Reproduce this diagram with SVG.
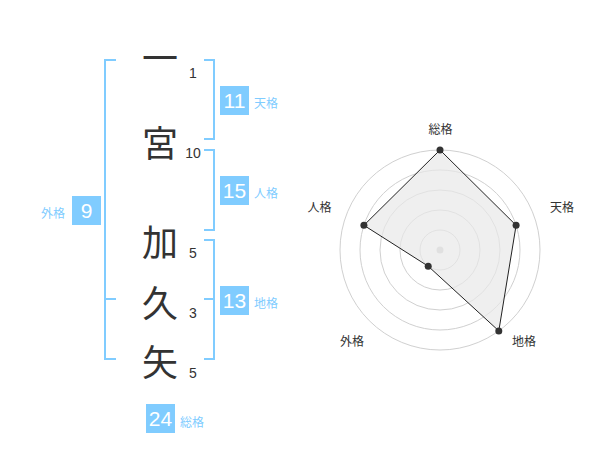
<svg xmlns="http://www.w3.org/2000/svg" width="600" height="470" viewBox="0 0 600 470">
<style>
.kanji{font-family:"Noto Sans CJK JP","Noto Sans CJK SC",sans-serif;font-size:36px;fill:#333;text-anchor:middle}
.num{font-family:"Liberation Sans",Arial,sans-serif;font-size:14px;fill:#333;text-anchor:middle}
.br{fill:none;stroke:#80ccff;stroke-width:2}
.box{fill:#80ccff}
.bnum{font-family:"Liberation Sans",Arial,sans-serif;font-size:21px;fill:#fff;text-anchor:middle}
.lab{font-family:"Noto Sans CJK JP","Noto Sans CJK SC",sans-serif;font-size:12px;fill:#80ccff}
.rl{font-family:"Noto Sans CJK JP","Noto Sans CJK SC",sans-serif;font-size:12px;fill:#333;text-anchor:middle}
.ring{fill:none;stroke:#d0d0d0;stroke-width:1}
.pt{fill:#333}
</style>
<rect width="600" height="470" fill="#fff"/>
<g id="chars">
<text class="kanji" x="160" y="72">一</text>
<text class="kanji" x="160" y="157">宮</text>
<text class="kanji" x="160" y="256">加</text>
<text class="kanji" x="160" y="317">久</text>
<text class="kanji" x="160" y="376">矢</text>
<text class="num" x="193" y="78">1</text>
<text class="num" x="193" y="158">10</text>
<text class="num" x="193" y="258">5</text>
<text class="num" x="193" y="318">3</text>
<text class="num" x="193" y="378">5</text>
</g>
<g id="connectors">
<path class="br" d="M116,60H105V359H116M105,299H116"/>
<path class="br" d="M204,60H214V139H204"/>
<path class="br" d="M204,150H214V230H204"/>
<path class="br" d="M204,240H214V359H204M204,299H214"/>
</g>
<g id="gaikaku">
<rect class="box" x="72" y="196" width="29" height="29"/>
<text class="bnum" x="86.5" y="218">9</text>
<text class="lab" x="41" y="218">外格</text>
</g>
<g id="tenkaku">
<rect class="box" x="220" y="86" width="29" height="29"/>
<text class="bnum" x="234.5" y="108">11</text>
<text class="lab" x="254" y="108">天格</text>
</g>
<g id="jinkaku">
<rect class="box" x="220" y="176" width="29" height="29"/>
<text class="bnum" x="234.5" y="198">15</text>
<text class="lab" x="254" y="198">人格</text>
</g>
<g id="chikaku">
<rect class="box" x="220" y="286" width="29" height="29"/>
<text class="bnum" x="234.5" y="308">13</text>
<text class="lab" x="254" y="308">地格</text>
</g>
<g id="soukaku">
<rect class="box" x="146" y="404" width="29" height="29"/>
<text class="bnum" x="160.5" y="426">24</text>
<text class="lab" x="180" y="427">総格</text>
</g>
<g id="radar">
<circle class="ring" cx="440" cy="250" r="20"/>
<circle class="ring" cx="440" cy="250" r="40"/>
<circle class="ring" cx="440" cy="250" r="60"/>
<circle class="ring" cx="440" cy="250" r="80"/>
<circle class="ring" cx="440" cy="250" r="100"/>
<circle cx="440" cy="250" r="3.5" fill="#ccc"/>
<polygon points="440,150 516.1,225.3 498.8,330.9 428.2,266.2 363.9,225.3" fill="#e8e8e8" fill-opacity="0.7" stroke="#222" stroke-width="1"/>
<circle class="pt" cx="440" cy="150" r="3.5"/>
<circle class="pt" cx="516.1" cy="225.3" r="3.5"/>
<circle class="pt" cx="498.8" cy="330.9" r="3.5"/>
<circle class="pt" cx="428.2" cy="266.2" r="3.5"/>
<circle class="pt" cx="363.9" cy="225.3" r="3.5"/>
<text class="rl" x="440.5" y="134">総格</text>
<text class="rl" x="562" y="212">天格</text>
<text class="rl" x="524" y="346">地格</text>
<text class="rl" x="352" y="346">外格</text>
<text class="rl" x="319.5" y="212">人格</text>
</g>
</svg>
